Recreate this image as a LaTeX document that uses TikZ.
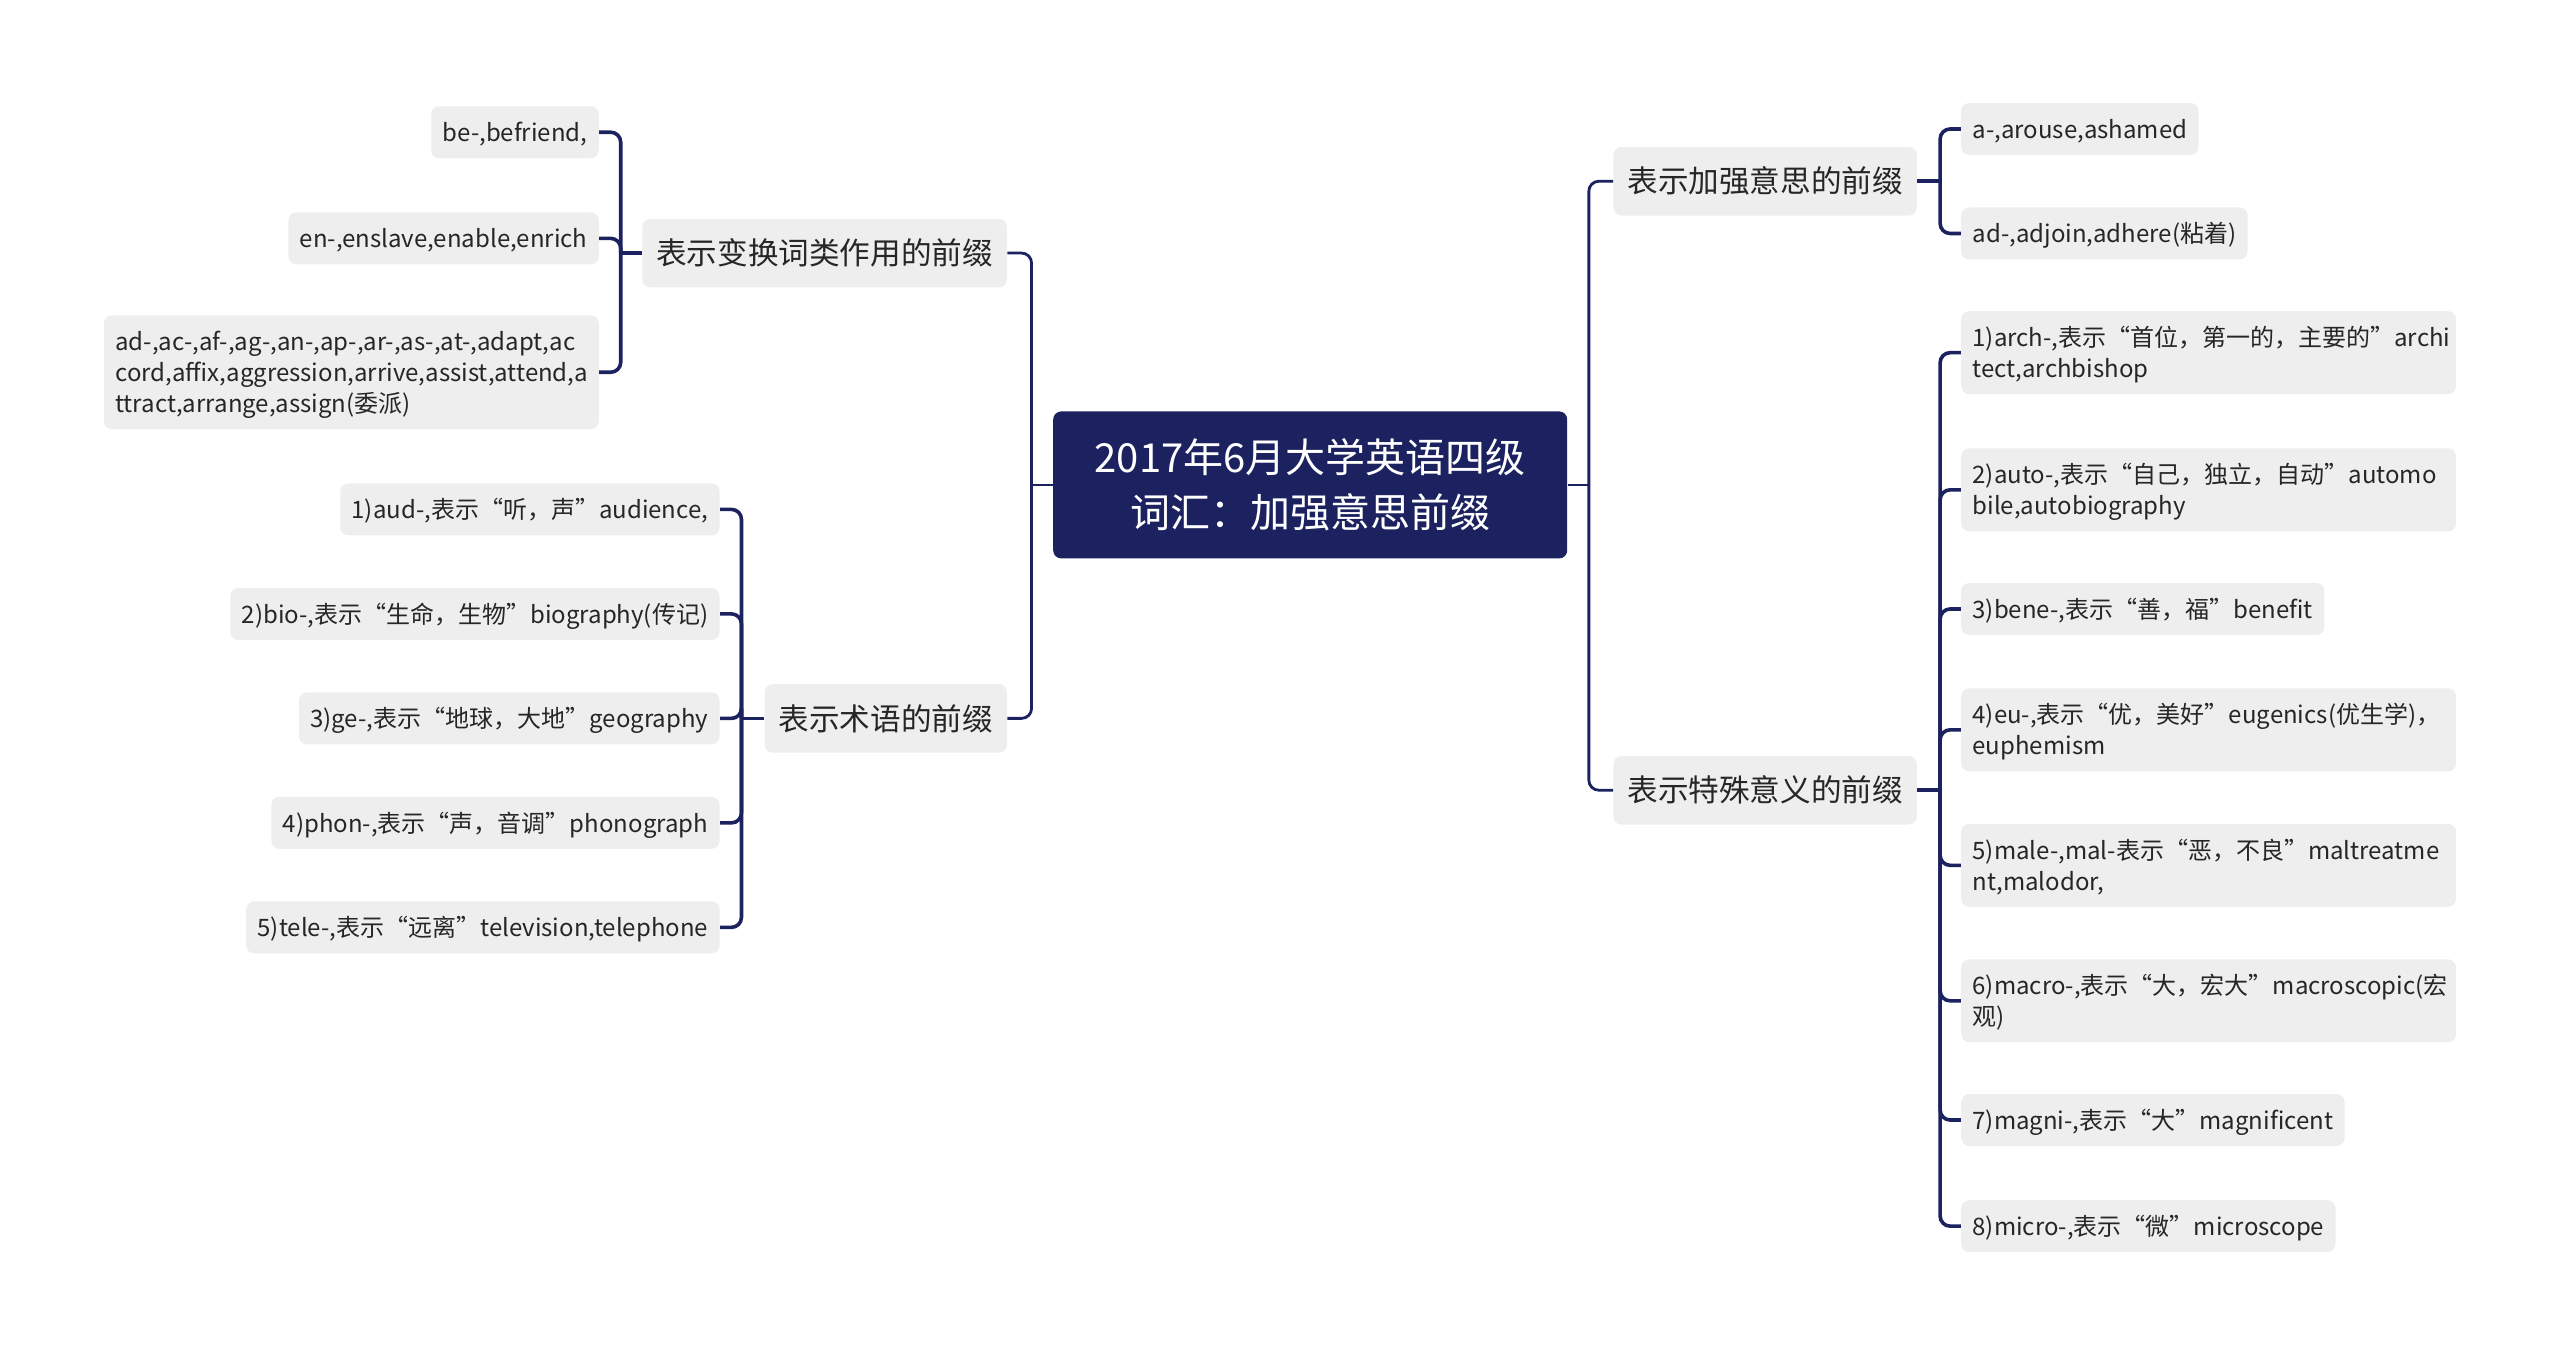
\documentclass[tikz,border=0pt]{standalone}
\usepackage{fontspec}
\setmainfont{Noto Sans CJK SC}
\definecolor{navy}{HTML}{1C2260}
\definecolor{leafgray}{HTML}{EEEEEE}
\definecolor{ink}{HTML}{262626}
\def\leafstrut{\vrule width 0pt height 12.45pt depth 3.05pt\relax}

\begin{document}
\begin{tikzpicture}[x=0.8163pt,y=-0.8163pt]
    \tikzset{
        rootbox/.style={fill=navy,text=white,rounded corners=4pt,minimum width=257pt,minimum height=73.5pt,align=center,font=\fontsize{20}{27.8}\selectfont},
        topicbox/.style={fill=leafgray,text=ink,rounded corners=4pt,minimum height=34.3pt,inner xsep=7pt,inner ysep=0pt,font=\fontsize{15.3}{18}\selectfont},
        leafbox/.style={fill=leafgray,text=ink,rounded corners=4pt,inner xsep=5.7pt,inner ysep=5.25pt,align=left,font=\fontsize{12}{15.5}\selectfont,execute at begin node=\leafstrut,execute at end node=\leafstrut},
        widebox/.style={leafbox,text width=236pt},
        link/.style={draw=navy,line width=1.8pt,rounded corners=5pt},
        rootlink/.style={draw=navy,line width=1.4pt,rounded corners=5pt},
    }
    \useasboundingbox (0,0) rectangle (1568,830);

    \node[rootbox] (root) at (802.5,297) {2017年6月大学英语四级\\词汇：加强意思前缀};

    \node[topicbox,anchor=east] (shift) at (617,155) {表示变换词类作用的前缀};
    \node[topicbox,anchor=east] (term) at (617,440) {表示术语的前缀};
    \node[topicbox,anchor=west] (stress) at (988,111) {表示加强意思的前缀};
    \node[topicbox,anchor=west] (special) at (988,484) {表示特殊意义的前缀};

    % left side
    \node[leafbox,anchor=east] (s1) at (367,81) {be-,befriend,};
    \node[leafbox,anchor=east] (s2) at (367,146) {en-,enslave,enable,enrich};
    \node[widebox,anchor=east] (s3) at (367,228) {ad-,ac-,af-,ag-,an-,ap-,ar-,as-,at-,adapt,ac\\cord,affix,aggression,arrive,assist,attend,a\\ttract,arrange,assign(委派)};

    \node[leafbox,anchor=east] (t1) at (441,312) {1)aud-,表示“听，声”audience,};
    \node[leafbox,anchor=east] (t2) at (441,376) {2)bio-,表示“生命，生物”biography(传记)};
    \node[leafbox,anchor=east] (t3) at (441,440) {3)ge-,表示“地球，大地”geography};
    \node[leafbox,anchor=east] (t4) at (441,504) {4)phon-,表示“声，音调”phonograph};
    \node[leafbox,anchor=east] (t5) at (441,568) {5)tele-,表示“远离”television,telephone};

    % right side
    \node[leafbox,anchor=west] (p1) at (1201,79) {a-,arouse,ashamed};
    \node[leafbox,anchor=west] (p2) at (1201,143) {ad-,adjoin,adhere(粘着)};

    \node[widebox,anchor=west] (q1) at (1201,216) {\mbox{1)arch-,表示“首位，第一的，主要的”archi}\\tect,archbishop};
    \node[widebox,anchor=west] (q2) at (1201,300) {2)auto-,表示“自己，独立，自动”automo\\bile,autobiography};
    \node[leafbox,anchor=west] (q3) at (1201,373) {3)bene-,表示“善，福”benefit};
    \node[widebox,anchor=west] (q4) at (1201,447) {4)eu-,表示“优，美好”eugenics(优生学)，\\euphemism};
    \node[widebox,anchor=west] (q5) at (1201,530) {5)male-,mal-表示“恶，不良”maltreatme\\nt,malodor,};
    \node[widebox,anchor=west] (q6) at (1201,613) {\mbox{6)macro-,表示“大，宏大”macroscopic(宏}\\观)};
    \node[leafbox,anchor=west] (q7) at (1201,686) {7)magni-,表示“大”magnificent};
    \node[leafbox,anchor=west] (q8) at (1201,751) {8)micro-,表示“微”microscope};

    % connectors
    \draw[rootlink] (root.west) -- ++(-13,0) coordinate (rootL);
    \draw[rootlink] (root.east) -- ++(13,0) coordinate (rootR);
    \foreach \c in {shift,term} \draw[rootlink] (rootL) |- (\c.east);
    \foreach \c in {stress,special} \draw[rootlink] (rootR) |- (\c.west);

    \draw[link] (shift.west) -- ++(-13,0) coordinate (shiftB);
    \foreach \c in {s1,s2,s3} \draw[link] (shiftB) |- (\c.east);
    \draw[link] (term.west) -- ++(-14,0) coordinate (termB);
    \foreach \c in {t1,t2,t3,t4,t5} \draw[link] (termB) |- (\c.east);
    \draw[link] (stress.east) -- ++(14,0) coordinate (stressB);
    \foreach \c in {p1,p2} \draw[link] (stressB) |- (\c.west);
    \draw[link] (special.east) -- ++(14,0) coordinate (specialB);
    \foreach \c in {q1,q2,q3,q4,q5,q6,q7,q8} \draw[link] (specialB) |- (\c.west);
\end{tikzpicture}
\end{document}
